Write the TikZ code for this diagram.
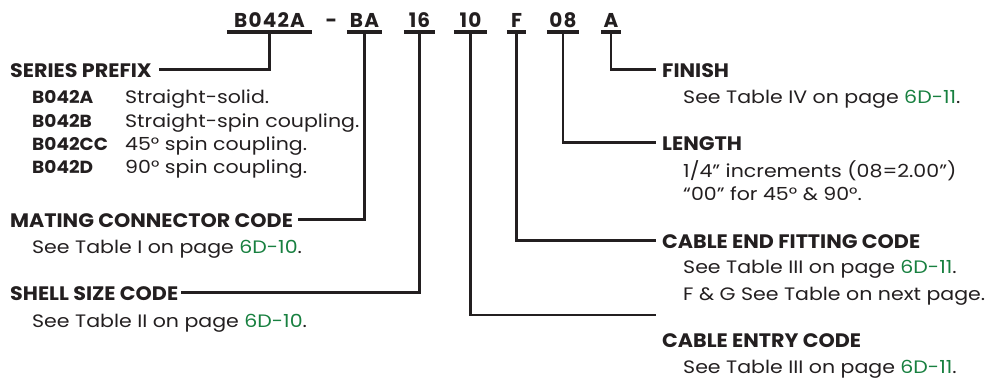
\documentclass[tikz,border=0pt]{standalone}
\usepackage{fontspec}
\setmainfont{Poppins}
\newfontfamily\widefont{Poppins}[FakeStretch=1.14]
\newfontfamily\headfont{Poppins}[FakeStretch=1.06]
\usetikzlibrary{positioning}
\definecolor{ink}{RGB}{35,31,32}
\definecolor{pagegreen}{RGB}{24,128,64}
\newcommand{\pg}[1]{\textcolor{pagegreen}{#1}}

\begin{document}
\begin{tikzpicture}[
  x=1pt,y=-1pt,
  every node/.style={text=ink},
  codepart/.style={font=\fontsize{20}{20}\selectfont\bfseries\addfontfeatures{LetterSpace=6},
                   inner xsep=0pt,inner ysep=4.5pt,text depth=0pt,anchor=base},
  bar/.style={line width=4pt,draw=ink},
  head/.style={font=\headfont\fontsize{19.5}{19.5}\selectfont\bfseries,inner sep=0pt,
               text height=15pt,text depth=0pt,anchor=base west},
  note/.style={font=\widefont\fontsize{18}{18}\selectfont,inner sep=0pt,anchor=base west},
  seriescode/.style={note,font=\headfont\fontsize{17.5}{17.5}\selectfont\bfseries},
  lead/.style={line width=2.2pt,draw=ink}
]
\useasboundingbox (0,0) rectangle (1001,381);

% part number
\foreach \name/\x/\w/\txt in {pfx/269.5/85/B042A, mate/364.5/35/BA,
    shell/419.5/31/16, entry/470.5/33/10, fit/516.5/19/F,
    len/563/32/08, fin/611/20/A}
  {
    \node[codepart,minimum width=\w pt] (\name) at (\x,27) {\txt};
    \draw[bar] (\name.south west) -- (\name.south east);
  }
\node[codepart] (dash) at (331.5,27) {-};

% left side
\node[head] (series) at (10,77) {SERIES PREFIX};
\foreach \row/\yy/\cd/\desc in {1/103/B042A/Straight-solid.,
    2/127/B042B/Straight-spin coupling., 3/150/B042CC/45° spin coupling.,
    4/173/B042D/90° spin coupling.}
  {
    \node[seriescode] (cd\row) at (32,\yy) {\cd};
    \node[note] (ds\row) at (125,\yy) {\desc};
  }
\node[head] (mating) at (10,227) {MATING CONNECTOR CODE};
\node[note] (matingtxt) at (32,253) {See Table I on page \pg{6D-10}.};
\node[head] (shellsz) at (10,300) {SHELL SIZE CODE};
\node[note] (shelltxt) at (32,327) {See Table II on page \pg{6D-10}.};

% right side
\node[head] (finish) at (662,77) {FINISH};
\node[note] (finishtxt) at (683,103) {See Table IV on page \pg{6D-11}.};
\node[head] (length) at (662,150) {LENGTH};
\node[note] (lengthtxt) at (683,177) {1/4” increments (08=2.00”)};
\node[note] (lengthtxtb) at (683,200) {“00” for 45° \& 90°.};
\node[head] (fitting) at (662,248) {CABLE END FITTING CODE};
\node[note] (fittingtxt) at (683,273) {See Table III on page \pg{6D-11}.};
\node[note] (fittingtxtb) at (683,300) {F \& G See Table on next page.};
\node[head] (cabentry) at (662,347) {CABLE ENTRY CODE};
\node[note] (cabentrytxt) at (683,373) {See Table III on page \pg{6D-11}.};
\coordinate (entryend) at (656,315);

% leaders
\draw[lead] (pfx.south) |- ([xshift=7pt]series.east);
\draw[lead] (mate.south) |- ([xshift=5pt]mating.east);
\draw[lead] (shell.south) |- ([xshift=3pt]shellsz.east);
\draw[lead] (entry.south) |- (entryend);
\draw[lead] (fit.south) |- ([xshift=-6pt]fitting.west);
\draw[lead] (len.south) |- ([xshift=-6pt]length.west);
\draw[lead] (fin.south) |- ([xshift=-6pt]finish.west);
\end{tikzpicture}
\end{document}
